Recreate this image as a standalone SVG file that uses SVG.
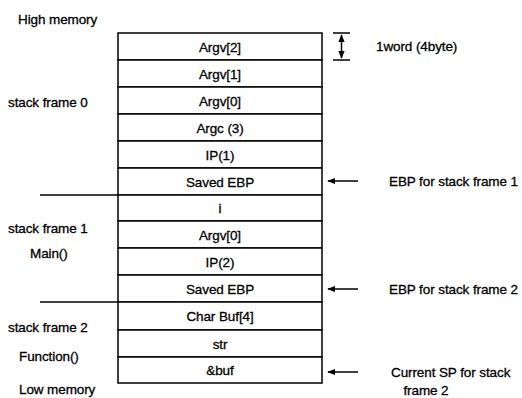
<svg xmlns="http://www.w3.org/2000/svg" width="522" height="398" viewBox="0 0 522 398">
<style>
text{font-family:"Liberation Sans",Arial,sans-serif;font-size:13.5px;fill:#000;stroke:#000;stroke-width:0.3;letter-spacing:-0.1px}
.c{text-anchor:middle}
.cell{fill:#fff;stroke:#000;stroke-width:1.5}
.ln{stroke:#000;stroke-width:1.5;fill:none}
</style>
<defs>
<marker id="ah" viewBox="0 0 10 10" refX="9" refY="5" markerWidth="8" markerHeight="8" markerUnits="userSpaceOnUse" orient="auto-start-reverse">
<path d="M0,1 L10,5 L0,9 Z" fill="#000"/>
</marker>
</defs>
<rect width="522" height="398" fill="#fff" stroke="none"/>
<text x="18" y="24">High memory</text>
<text x="8" y="107">stack frame 0</text>
<text x="8" y="233">stack frame 1</text>
<text x="30" y="258">Main()</text>
<text x="8" y="332">stack frame 2</text>
<text x="19" y="361">Function()</text>
<text x="19" y="394">Low memory</text>
<g id="cell-argv2"><rect class="cell" x="118" y="33" width="204" height="27"/><text class="c" x="220" y="52">Argv[2]</text></g>
<g id="cell-argv1"><rect class="cell" x="118" y="60" width="204" height="27"/><text class="c" x="220" y="79">Argv[1]</text></g>
<g id="cell-argv0a"><rect class="cell" x="118" y="87" width="204" height="27"/><text class="c" x="220" y="106">Argv[0]</text></g>
<g id="cell-argc"><rect class="cell" x="118" y="114" width="204" height="27"/><text class="c" x="220" y="133">Argc (3)</text></g>
<g id="cell-ip1"><rect class="cell" x="118" y="141" width="204" height="27"/><text class="c" x="220" y="160">IP(1)</text></g>
<g id="cell-ebp1"><rect class="cell" x="118" y="168" width="204" height="27"/><text class="c" x="220" y="187">Saved EBP</text></g>
<g id="cell-i"><rect class="cell" x="118" y="195" width="204" height="26"/><text class="c" x="220" y="213">i</text></g>
<g id="cell-argv0b"><rect class="cell" x="118" y="221" width="204" height="27"/><text class="c" x="220" y="240">Argv[0]</text></g>
<g id="cell-ip2"><rect class="cell" x="118" y="248" width="204" height="27"/><text class="c" x="220" y="267">IP(2)</text></g>
<g id="cell-ebp2"><rect class="cell" x="118" y="275" width="204" height="27"/><text class="c" x="220" y="294">Saved EBP</text></g>
<g id="cell-buf"><rect class="cell" x="118" y="302" width="204" height="28"/><text class="c" x="220" y="321">Char Buf[4]</text></g>
<g id="cell-str"><rect class="cell" x="118" y="330" width="204" height="27"/><text class="c" x="220" y="349">str</text></g>
<g id="cell-addr"><rect class="cell" x="118" y="357" width="204" height="26"/><text class="c" x="220" y="375">&amp;buf</text></g>
<g id="connectors">
<line class="ln" x1="40" y1="195" x2="118" y2="195"/>
<line class="ln" x1="40" y1="302" x2="118" y2="302"/>
<line class="ln" x1="333" y1="33" x2="350" y2="33"/>
<line class="ln" x1="333" y1="60" x2="350" y2="60"/>
<line class="ln" x1="341.5" y1="35" x2="341.5" y2="58" marker-start="url(#ah)" marker-end="url(#ah)"/>
<line class="ln" x1="358" y1="181" x2="328" y2="181" marker-end="url(#ah)"/>
<line class="ln" x1="358" y1="289" x2="328" y2="289" marker-end="url(#ah)"/>
<line class="ln" x1="358" y1="372" x2="328" y2="372" marker-end="url(#ah)"/>
</g>
<text x="376" y="51">1word (4byte)</text>
<text x="389" y="186">EBP for stack frame 1</text>
<text x="389" y="294">EBP for stack frame 2</text>
<text x="391" y="377">Current SP for stack</text>
<text class="c" x="426" y="395">frame 2</text>
</svg>
